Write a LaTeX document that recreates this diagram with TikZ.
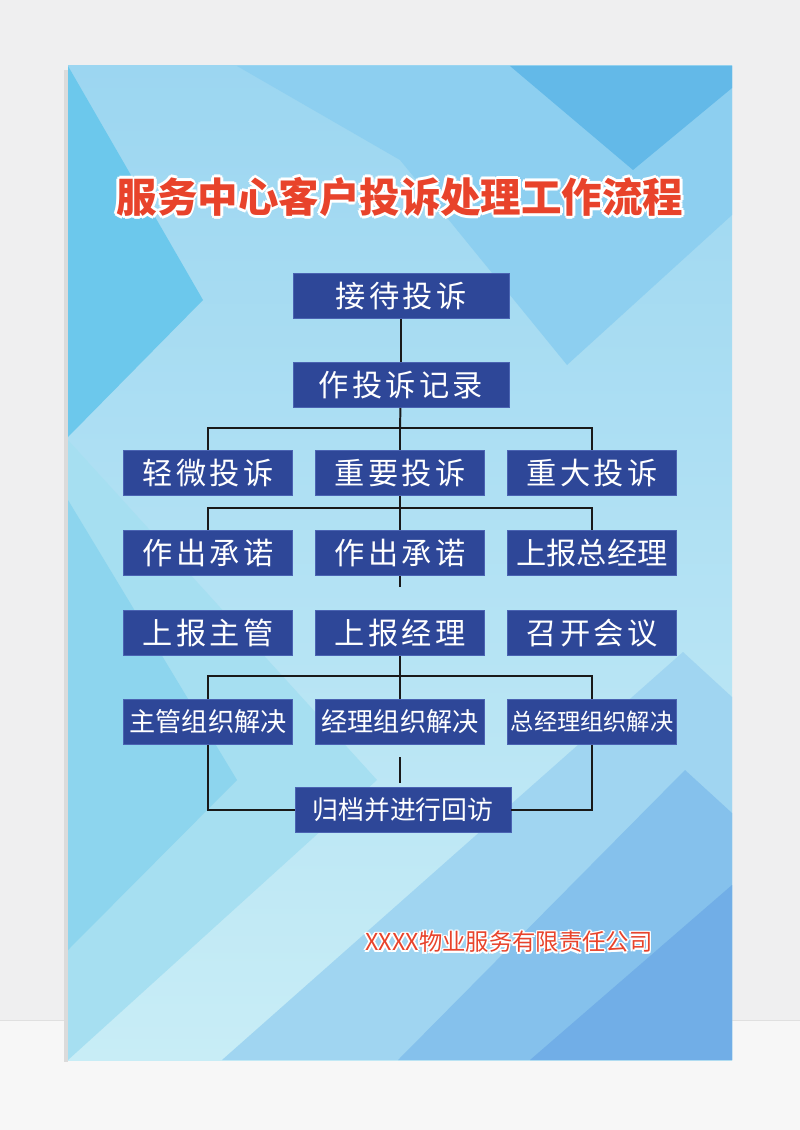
\documentclass[tikz,border=0pt]{standalone}
\usepackage{fontspec}
\setmainfont{Noto Sans CJK SC}
\newfontfamily\boxfont{Noto Sans CJK SC}[LetterSpace=11]
\usetikzlibrary{positioning}

\definecolor{navy}{HTML}{2E4798}
\definecolor{navyedge}{HTML}{4A63B2}
\definecolor{titlered}{HTML}{E8432B}
\definecolor{wall}{HTML}{EFEFF0}
\definecolor{floor}{HTML}{F7F7F7}
\definecolor{bgtop}{HTML}{9CD6F1}
\definecolor{bgmid}{HTML}{BCE7F4}
\definecolor{bgbot}{HTML}{C8EDF6}
\definecolor{bgcyan}{HTML}{6CC8EC}
\definecolor{bgband}{HTML}{8DCFF0}
\definecolor{bgdark}{HTML}{63B9E8}
\definecolor{bgmed}{HTML}{A6DFF1}
\definecolor{bgchev}{HTML}{8DD5EE}
\definecolor{mnt1}{HTML}{A0D5F1}
\definecolor{mnt2}{HTML}{85C1EC}
\definecolor{mnt3}{HTML}{71AEE7}

\begin{document}
\begin{tikzpicture}[x=0.025cm, y=-0.025cm,
  box/.style={fill=navy, draw=navyedge, line width=0.4pt, text=white,
    minimum width=4.225cm, minimum height=1.125cm, inner sep=0pt,
    font=\boxfont\fontsize{21.5}{21.5}\selectfont},
  widebox/.style={box, minimum width=5.4cm},
  link/.style={line width=1.4pt, black!90},
  titletext/.style={font=\bfseries\fontsize{28.8}{28.8}\selectfont, text=titlered, inner sep=0pt},
  foottext/.style={font=\fontsize{16.6}{16.6}\selectfont, text=titlered, inner sep=0pt}]

 %page and floor
  \useasboundingbox (0,0) rectangle (800,1130);
  \fill[wall] (0,0) rectangle (800,1020);
  \fill[floor] (0,1020) rectangle (800,1130);
  \draw[black!12, line width=0.6pt] (0,1020) -- (800,1020);
  \fill[black!14] (64,70) rectangle (68,1062);

 %poster background
  \begin{scope}
    \clip (68,66) rectangle (732,1060);
    \shade[top color=bgtop, middle color=bgmid, bottom color=bgbot] (68,66) rectangle (732,1060);
    \fill[bgcyan] (68,66) -- (203,300) -- (68,437) -- cycle;
    \fill[bgband] (237,66) -- (400,160) -- (567,365) -- (732,215) -- (732,66) -- cycle;
    \fill[bgdark] (510,66) -- (633,170) -- (732,88) -- (732,66) -- cycle;
    \fill[bgmed] (68,440) -- (377,780) -- (68,1060) -- cycle;
    \fill[bgchev] (68,500) -- (237,780) -- (68,950) -- cycle;
    \fill[mnt1] (683,652) -- (732,697) -- (732,1060) -- (222,1060) -- cycle;
    \fill[mnt2] (685,770) -- (732,813) -- (732,1060) -- (398,1060) -- cycle;
    \fill[mnt3] (732,885) -- (732,1060) -- (530,1060) -- cycle;
  \end{scope}

 %title
  \foreach \a in {0,45,...,315} {
    \node[titletext, text=white] (tglow\a) at ([shift={(\a:1.8pt)}]400,197) {服务中心客户投诉处理工作流程};
  }
  \node[titletext] (title) at (400,197) {服务中心客户投诉处理工作流程};

 %level 1
  \node[widebox] (receive) at (401,296) {接待投诉};
  \node[widebox] (record) at (401,385) {作投诉记录};

 %level 2
  \def\dy{473};
  \foreach \x/\txt/\name in {208/轻微投诉/minor, 400/重要投诉/serious, 592/重大投诉/major} {
    \node[box] (\name) at (\x,\dy) {\txt};
  }

 %level 3
  \def\dy{553};
  \foreach \x/\txt/\name in {208/作出承诺/promiseA, 400/作出承诺/promiseB} {
    \node[box] (\name) at (\x,\dy) {\txt};
  }
  \node[box, font=\fontsize{21.5}{21.5}\selectfont] (reportgm) at (592,\dy) {上报总经理};

 %level 4
  \def\dy{633};
  \foreach \x/\txt/\name in {208/上报主管/reportsup, 400/上报经理/reportmgr, 592/召开会议/meeting} {
    \node[box] (\name) at (\x,\dy) {\txt};
  }

 %level 5
  \def\dy{722};
  \foreach \x/\txt/\name in {208/主管组织解决/solveA, 400/经理组织解决/solveB} {
    \node[box, font=\fontsize{18.6}{18.6}\selectfont] (\name) at (\x,\dy) {\txt};
  }
  \node[box, font=\fontsize{16.5}{16.5}\selectfont] (solveC) at (592,\dy) {总经理组织解决};

 %level 6
  \node[widebox, font=\fontsize{18.4}{18.4}\selectfont] (archive) at (403,810) {归档并进行回访};

 %links 1->2
  \draw[link] (receive) -- (record);
  \coordinate (bus1) at (400,428);
  \draw[link] (record) -- (bus1);
  \draw[link] (minor) |- (bus1) -| (major);
  \draw[link] (bus1) -- (serious);

 %links 2->3
  \coordinate (bus2) at (400,508);
  \draw[link] (serious) -- (bus2);
  \draw[link] (promiseA) |- (bus2) -| (reportgm);
  \draw[link] (bus2) -- (promiseB);
  \coordinate (stub) at (400,587);
  \draw[link] (promiseB) -- (stub);

 %links 4->5
  \coordinate (bus3) at (400,676);
  \draw[link] (reportmgr) -- (bus3);
  \draw[link] (solveA) |- (bus3) -| (solveC);
  \draw[link] (bus3) -- (solveB);

 %links 5->6
  \draw[link] (solveA) |- (archive);
  \draw[link] (solveC) |- (archive);
  \coordinate (gapA) at (400,757);
  \coordinate (gapB) at (400,783);
  \draw[link] (gapA) -- (gapB);

 %company
  \foreach \a in {0,45,...,315} {
    \node[foottext, text=white] (fglow\a) at ([shift={(\a:1.2pt)}]509,942) {XXXX物业服务有限责任公司};
  }
  \node[foottext] (company) at (509,942) {XXXX物业服务有限责任公司};
\end{tikzpicture}
\end{document}
